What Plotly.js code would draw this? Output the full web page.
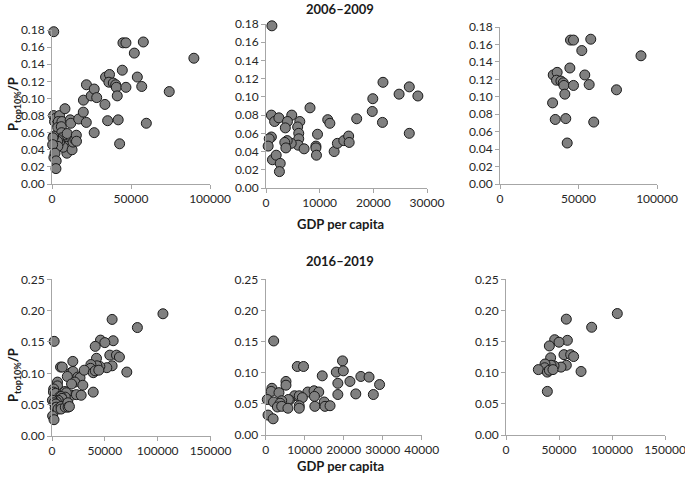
<!DOCTYPE html>
<html>
<head>
<meta charset="utf-8">
<script src="https://cdn.plot.ly/plotly-3.0.1.min.js"></script>
<style>html,body{margin:0;padding:0;background:#fff;}#chart{width:685px;height:485px;}</style>
</head>
<body>
<div id="chart"></div>
<script>
// ---------- DATA ----------
// 2006–2009, lower-income group (middle panel)
const gdp0609Low = [1100,1000,1600,2400,4800,4000,3600,6300,5900,6100,6100,6000,8200,9600,9300,9300,9400,7100,4700,3950,3500,3700,1000,600,400,1200,1900,2650,2500,11500,11900,12700,13300,14500,15400,15500,16900,19800,19900,21800,21700,24800,26700,26700,28300];
const share0609Low = [0.178,0.080,0.073,0.077,0.080,0.073,0.066,0.073,0.067,0.060,0.054,0.047,0.088,0.059,0.046,0.044,0.036,0.043,0.049,0.052,0.050,0.044,0.056,0.054,0.046,0.031,0.036,0.027,0.018,0.075,0.071,0.040,0.049,0.052,0.057,0.050,0.076,0.084,0.098,0.116,0.072,0.103,0.111,0.060,0.101];
// 2006–2009, high-income group (right panel)
const gdp0609High = [44900,46800,57800,52100,44500,89800,33900,36400,54000,36000,38800,40300,40700,46800,56800,41300,74200,33500,35200,41900,59700,42800];
const share0609High = [0.165,0.165,0.166,0.153,0.133,0.147,0.125,0.128,0.125,0.119,0.118,0.116,0.113,0.113,0.114,0.103,0.108,0.093,0.074,0.075,0.071,0.047];
// 2016–2019, lower-income group (middle panel)
const gdp1619Low = [2050,8100,9700,19700,18100,19900,14500,24400,26500,21600,18500,29200,5200,5200,1600,1400,3400,18500,23100,27600,10800,12400,13600,12500,7400,8600,9400,6100,5800,4100,400,2000,3700,3000,4100,5700,8600,8600,12600,15000,15200,16500,600,1900];
const share1619Low = [0.151,0.110,0.110,0.119,0.101,0.103,0.095,0.094,0.093,0.086,0.083,0.081,0.086,0.080,0.075,0.070,0.068,0.065,0.066,0.065,0.069,0.071,0.069,0.062,0.063,0.063,0.060,0.056,0.057,0.055,0.057,0.053,0.051,0.045,0.046,0.043,0.047,0.043,0.046,0.053,0.046,0.047,0.032,0.026];
// 2016–2019, high-income group (right panel)
const gdp1619High = [105000,80800,56900,57900,45900,50000,40900,42100,54700,61000,63800,56900,51900,45300,42500,36800,36500,30500,39000,40900,44300,70800,39000];
const share1619High = [0.195,0.173,0.186,0.152,0.153,0.149,0.143,0.124,0.129,0.129,0.126,0.112,0.109,0.111,0.112,0.114,0.108,0.105,0.101,0.104,0.105,0.102,0.070];

const periodTitles = ['2006–2009', '2016–2019'];
const xTitle = 'GDP per capita';
const yTitle = 'P<sub>top10%</sub>/P';

// ---------- LAYOUT ----------
const W = 685, H = 485;
const FONT = 'Lato, "Open Sans", sans-serif';
const AX = '#a6a6a6';
function dx(a, b) { return [a / W, b / W]; }
function dy(top, bottom) { return [1 - bottom / H, 1 - top / H]; }

const panels = [
  {x: gdp0609Low.concat(gdp0609High), y: share0609Low.concat(share0609High), xd: dx(52, 210), yd: dy(30, 184), xr: [0, 100000], xdt: 50000, yr: [0, 0.18], ydt: 0.02},
  {x: gdp0609Low, y: share0609Low, xd: dx(266, 427), yd: dy(24, 188), xr: [0, 30000], xdt: 10000, yr: [0, 0.18], ydt: 0.02},
  {x: gdp0609High, y: share0609High, xd: dx(500, 657), yd: dy(27, 184), xr: [0, 100000], xdt: 50000, yr: [0, 0.18], ydt: 0.02},
  {x: gdp1619Low.concat(gdp1619High), y: share1619Low.concat(share1619High), xd: dx(52, 210.5), yd: dy(279.3, 436), xr: [0, 150000], xdt: 50000, yr: [0, 0.25], ydt: 0.05},
  {x: gdp1619Low, y: share1619Low, xd: dx(265.7, 421.7), yd: dy(279.3, 435), xr: [0, 40000], xdt: 10000, yr: [0, 0.25], ydt: 0.05},
  {x: gdp1619High, y: share1619High, xd: dx(506, 665), yd: dy(279.3, 435), xr: [0, 150000], xdt: 50000, yr: [0, 0.25], ydt: 0.05}
];

const traces = [];
const layout = {
  width: W, height: H,
  margin: {l: 0, r: 0, t: 0, b: 0},
  paper_bgcolor: '#fff', plot_bgcolor: '#fff',
  showlegend: false,
  font: {family: FONT, size: 12, color: '#262626'},
  annotations: []
};

panels.forEach((p, i) => {
  const n = i + 1;
  const xa = 'x' + (n === 1 ? '' : n), ya = 'y' + (n === 1 ? '' : n);
  traces.push({
    type: 'scatter', mode: 'markers', x: p.x, y: p.y,
    xaxis: xa, yaxis: ya, cliponaxis: false, hoverinfo: 'skip',
    marker: {size: 10, color: '#808080', line: {color: '#1a1a1a', width: 1}}
  });
  layout['xaxis' + (n === 1 ? '' : n)] = {
    domain: p.xd, range: p.xr, dtick: p.xdt, tick0: 0, tickformat: 'd',
    anchor: ya, showline: true, linecolor: AX, linewidth: 1,
    ticks: 'outside', ticklen: 4, tickcolor: AX, showgrid: false, zeroline: false,
    tickfont: {family: FONT, size: 12, color: '#262626'}, ticklabeloverflow: 'allow'
  };
  layout['yaxis' + (n === 1 ? '' : n)] = {
    domain: p.yd, range: p.yr, dtick: p.ydt, tick0: 0, tickformat: '.2f',
    anchor: xa, showline: true, linecolor: AX, linewidth: 1,
    ticks: 'outside', ticklen: 4, tickcolor: AX, showgrid: false, zeroline: false,
    tickfont: {family: FONT, size: 12, color: '#262626'}, ticklabeloverflow: 'allow'
  };
});

const boldFont = {family: FONT, size: 13, color: '#1a1a1a', weight: 'bold'};
function ann(text, px, py, extra) {
  layout.annotations.push(Object.assign({
    text: '<b>' + text + '</b>', xref: 'paper', yref: 'paper',
    x: px / W, y: 1 - py / H, xanchor: 'center', yanchor: 'middle',
    showarrow: false, font: boldFont, borderpad: 0
  }, extra || {}));
}
ann(periodTitles[0], 340, 0, {yanchor: 'top'});
ann(xTitle, 340, 224);
ann(periodTitles[1], 340, 261);
ann(xTitle, 340, 466);
ann(yTitle, 14, 104, {textangle: -90});
ann(yTitle, 14, 375, {textangle: -90});

Plotly.newPlot('chart', traces, layout, {staticPlot: true, displayModeBar: false});
</script>
</body>
</html>
